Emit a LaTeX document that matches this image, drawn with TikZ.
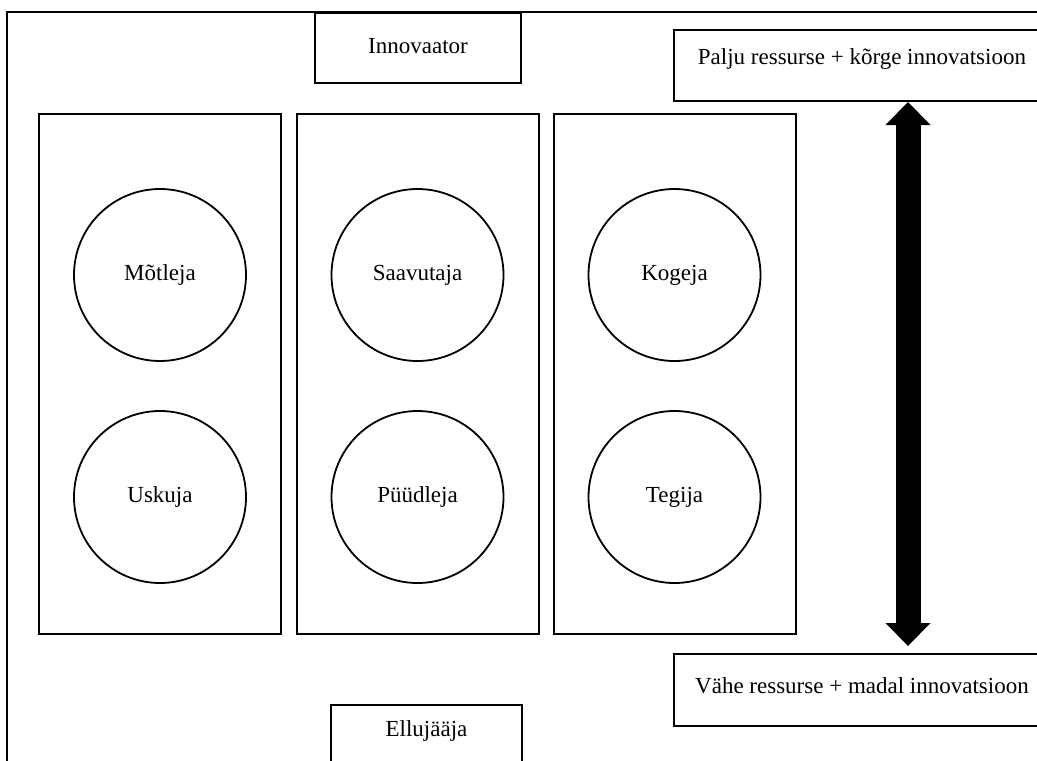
\documentclass[tikz,border=0pt]{standalone}
\usepackage{fontspec}
\setmainfont{Liberation Serif}
\usetikzlibrary{arrows.meta}

\begin{document}
\begin{tikzpicture}[
    x=1pt, y=-1pt,
    every node/.style={font=\fontsize{23}{27}\selectfont, inner sep=0pt},
    frame/.style={draw, line width=2pt},
    textbox/.style={frame, anchor=north west},
    column/.style={frame, minimum width=242pt, minimum height=520pt},
    person/.style={circle, draw, line width=1.8pt, minimum size=172pt},
    big arrow/.style={line width=25pt,
        {Triangle[width=45pt,length=23pt,line width=0pt]}-{Triangle[width=45pt,length=23pt,line width=0pt]}}
    ]

    \useasboundingbox (0,0) rectangle (1037,761);
    \clip (0,0) rectangle (1037,761);

    % outer frame
    \draw[frame] (7,12) rectangle (1070,790);

    % top and bottom labels
    \node[textbox, minimum width=206pt, text height=40pt, text depth=30pt] (innovaator) at (314,12) {Innovaator};
    \node[textbox, minimum width=191pt, text height=31pt, text depth=39pt] (ellujaaja) at (330,704) {Ellujääja};

    % columns
    \node[column] (col1) at (160,374) {};
    \node[column] (col2) at (417.5,374) {};
    \node[column] (col3) at (674.5,374) {};

    % types
    \node[person] (motleja) at (160,275) {Mõtleja};
    \node[person] (uskuja) at (160,497) {Uskuja};
    \node[person] (saavutaja) at (417.5,275) {Saavutaja};
    \node[person] (puudleja) at (417.5,497) {Püüdleja};
    \node[person] (kogeja) at (674.5,275) {Kogeja};
    \node[person] (tegija) at (674.5,497) {Tegija};

    % resources scale
    \node[textbox, minimum width=376pt, text height=34pt, text depth=37pt] (palju) at (673,29) {Palju ressurse + kõrge innovatsioon};
    \node[textbox, minimum width=376pt, text height=39pt, text depth=33pt] (vahe) at (673,653) {Vähe ressurse + madal innovatsioon};
    \coordinate (axis) at (908,0);
    \draw[big arrow, shorten >=7pt] (palju.south -| axis) -- (vahe.north -| axis);
\end{tikzpicture}
\end{document}
